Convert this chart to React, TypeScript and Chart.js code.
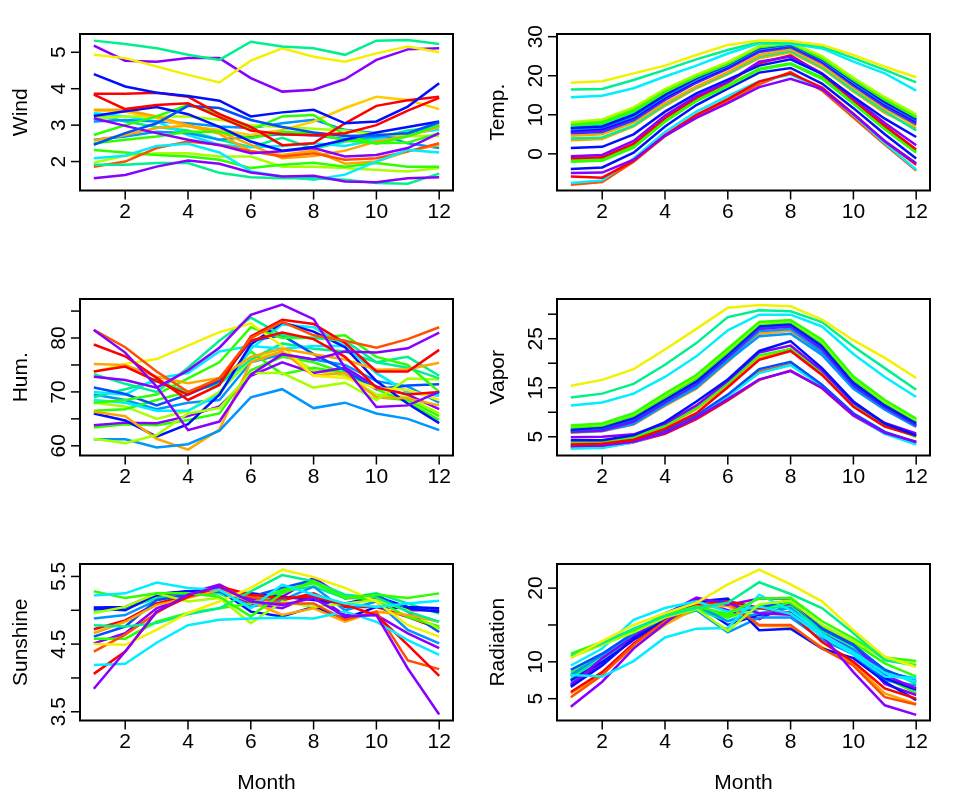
import React, { useEffect, useRef } from "react";
import { Chart, registerables } from "chart.js";

Chart.register(...registerables);

// ---------------- data ----------------
const MONTHS = [1, 2, 3, 4, 5, 6, 7, 8, 9, 10, 11, 12];
const X_TICKS = [2, 4, 6, 8, 10, 12];

const PALETTE: Record<string, string> = {
  red: "#FF0000",
  orangered: "#FF5000",
  orange: "#FFA500",
  gold: "#FFCC00",
  yellow: "#F2F200",
  yellowgreen: "#A8FF00",
  green: "#2EFF00",
  springgreen: "#00F090",
  cyan: "#00EEFF",
  azure: "#0095FF",
  blue: "#0010FF",
  blue2: "#0050FF",
  purple: "#8A00FF",
};

// Wind
const windColors = [
  "springgreen", "yellow", "purple", "blue", "red", "red", "blue2", "blue", "purple", "purple",
  "springgreen", "cyan", "orangered", "green", "yellowgreen", "green", "green", "orange", "orange", "gold",
  "yellowgreen", "azure", "azure", "cyan", "springgreen",
];
const windValues = [
  [5.32, 5.23, 5.11, 4.93, 4.79, 5.29, 5.16, 5.11, 4.93, 5.32, 5.34, 5.23],
  [4.93, 4.84, 4.61, 4.38, 4.17, 4.77, 5.11, 4.88, 4.74, 4.97, 5.16, 5.0],
  [5.18, 4.77, 4.74, 4.84, 4.84, 4.29, 3.92, 3.97, 4.26, 4.79, 5.08, 5.11],
  [4.4, 4.06, 3.89, 3.8, 3.67, 3.24, 3.35, 3.42, 3.05, 3.1, 3.51, 4.15],
  [3.86, 3.86, 3.89, 3.78, 3.3, 2.95, 2.45, 2.5, 3.05, 3.53, 3.68, 3.78],
  [3.84, 3.44, 3.55, 3.6, 3.22, 2.85, 2.75, 2.72, 2.78, 3.0, 3.4, 3.75],
  [2.46, 2.78, 3.05, 3.53, 3.47, 3.14, 2.95, 2.8, 2.7, 2.72, 2.78, 3.08],
  [3.25, 3.38, 3.5, 3.3, 2.95, 2.55, 2.3, 2.4, 2.6, 2.8, 2.95, 3.1],
  [3.19, 2.98, 2.78, 2.6, 2.45, 2.23, 2.28, 2.37, 2.14, 2.18, 2.37, 2.78],
  [1.54, 1.63, 1.86, 2.03, 1.94, 1.7, 1.59, 1.61, 1.45, 1.43, 1.54, 1.57],
  [1.91, 1.91, 1.96, 1.96, 1.69, 1.57, 1.54, 1.54, 1.5, 1.41, 1.39, 1.67],
  [2.09, 2.16, 2.43, 2.49, 2.25, 1.73, 1.59, 1.5, 1.64, 2.0, 2.32, 2.25],
  [1.86, 2.0, 2.37, 2.55, 2.46, 2.28, 2.14, 2.23, 2.05, 2.09, 2.28, 2.5],
  [2.32, 2.25, 2.18, 2.14, 2.05, 1.82, 1.91, 1.97, 1.86, 1.96, 1.86, 1.86],
  [1.97, 2.16, 2.23, 2.23, 2.14, 2.14, 1.86, 1.86, 1.82, 1.77, 1.73, 1.82],
  [2.73, 3.0, 3.24, 3.56, 3.31, 2.87, 3.24, 3.28, 2.73, 2.49, 2.69, 3.0],
  [2.5, 2.6, 2.69, 2.82, 2.82, 2.64, 2.82, 2.78, 2.58, 2.5, 2.52, 2.78],
  [2.58, 2.73, 2.92, 2.98, 2.76, 2.28, 2.18, 2.3, 1.94, 2.0, 2.28, 2.46],
  [3.42, 3.42, 3.24, 3.0, 2.82, 2.46, 2.09, 2.15, 2.3, 2.55, 2.7, 2.95],
  [3.4, 3.37, 3.19, 2.96, 2.87, 2.73, 2.87, 3.1, 3.47, 3.78, 3.69, 3.44],
  [3.19, 3.24, 3.24, 3.24, 3.15, 3.0, 2.95, 2.9, 2.85, 2.75, 2.7, 2.7],
  [3.1, 3.14, 3.1, 3.05, 2.96, 2.92, 3.05, 3.15, 2.87, 2.78, 2.5, 2.37],
  [2.6, 2.69, 2.82, 2.78, 2.6, 2.69, 2.75, 2.72, 2.62, 2.68, 2.75, 3.0],
  [3.33, 3.24, 3.1, 2.73, 2.46, 2.39, 2.43, 2.5, 2.43, 2.6, 2.78, 2.87],
  [3.3, 3.1, 2.95, 2.85, 2.6, 2.4, 2.65, 2.35, 2.55, 2.65, 2.85, 2.95],
];
const windTicks = [2, 3, 4, 5];
const windTickLabels = ["2", "3", "4", "5"];

// Temperature
const tempColors = [
  "yellow", "springgreen", "cyan", "yellowgreen", "green", "green", "blue", "azure", "blue", "purple",
  "blue2", "cyan", "springgreen", "orange", "springgreen", "orange", "blue", "purple", "red", "green",
  "green", "blue", "purple", "red", "cyan", "orangered",
];
const tempValues = [
  [18.2, 18.6, 20.6, 22.6, 25.3, 27.9, 29.0, 28.9, 27.9, 25.3, 22.3, 19.6],
  [16.5, 16.6, 18.9, 21.5, 24.2, 26.6, 28.6, 28.4, 27.5, 24.5, 21.5, 18.3],
  [14.5, 14.9, 16.8, 19.8, 22.6, 25.7, 28.3, 28.2, 27.0, 23.6, 20.6, 16.2],
  [8.1, 8.8, 11.9, 16.6, 20.3, 23.5, 27.6, 28.5, 25.0, 19.5, 14.5, 10.1],
  [7.7, 8.3, 11.3, 16.2, 20.0, 23.3, 27.4, 28.4, 24.7, 19.2, 14.1, 9.6],
  [7.3, 7.8, 10.9, 15.8, 19.7, 23.0, 27.3, 28.2, 24.4, 18.9, 13.8, 9.3],
  [6.6, 7.0, 10.0, 15.1, 19.4, 22.8, 27.1, 28.1, 24.2, 18.6, 13.3, 8.9],
  [6.3, 6.8, 9.6, 14.8, 19.0, 22.5, 26.8, 27.9, 24.0, 18.3, 13.0, 8.6],
  [6.0, 6.4, 9.3, 14.4, 18.7, 22.2, 26.6, 27.8, 23.8, 18.0, 12.7, 8.3],
  [5.5, 6.0, 9.0, 14.0, 18.4, 21.9, 26.3, 27.6, 23.5, 17.8, 12.4, 8.0],
  [5.3, 5.6, 8.6, 13.8, 18.2, 21.8, 26.1, 27.3, 23.3, 17.5, 12.1, 7.6],
  [6.8, 7.2, 10.2, 15.0, 19.2, 22.6, 26.9, 27.7, 24.0, 18.5, 13.2, 8.8],
  [7.0, 7.5, 10.5, 15.5, 19.5, 22.9, 27.2, 28.0, 24.3, 18.8, 13.6, 9.2],
  [4.6, 5.0, 8.0, 13.0, 17.3, 21.0, 25.3, 26.8, 22.6, 17.0, 11.5, 7.2],
  [3.9, 4.2, 7.2, 12.6, 17.0, 20.6, 24.9, 26.3, 22.2, 16.3, 10.9, 6.0],
  [3.5, 3.8, 7.0, 12.3, 16.8, 20.4, 24.5, 26.0, 21.9, 16.0, 10.5, 6.5],
  [1.5, 1.8, 5.0, 10.8, 15.5, 19.0, 22.6, 24.2, 20.5, 14.6, 9.0, 4.3],
  [-0.6, -0.3, 3.3, 9.8, 14.8, 18.4, 23.6, 24.9, 20.6, 14.2, 7.9, 2.2],
  [-1.1, -0.9, 2.6, 9.2, 14.4, 18.3, 23.2, 25.2, 20.4, 13.8, 7.2, 1.1],
  [-1.6, -1.4, 2.0, 8.5, 13.8, 17.6, 21.8, 23.2, 19.6, 13.2, 6.6, 0.6],
  [-2.0, -1.8, 1.6, 8.2, 13.5, 17.3, 21.5, 23.0, 19.2, 12.8, 6.3, 0.3],
  [-3.9, -3.5, 0.3, 7.0, 12.5, 16.7, 20.8, 22.0, 18.0, 11.7, 5.0, -1.2],
  [-4.9, -4.8, -1.5, 4.6, 9.2, 13.0, 17.1, 19.2, 16.6, 10.2, 3.3, -2.4],
  [-5.8, -6.1, -1.8, 4.8, 10.0, 14.0, 18.5, 20.6, 17.0, 10.3, 3.2, -2.8],
  [-7.5, -6.8, -1.2, 5.6, 10.8, 14.8, 18.6, 20.3, 16.8, 10.0, 2.7, -4.0],
  [-7.9, -7.2, -2.0, 4.5, 9.5, 13.5, 17.8, 21.0, 16.2, 9.3, 2.4, -4.3],
];
const tempTicks = [0, 10, 20, 30];
const tempTickLabels = ["0", "10", "20", "30"];

// Humidity
const humColors = [
  "purple", "purple", "orangered", "red", "red", "orange", "yellow", "springgreen", "green", "yellowgreen",
  "azure", "orange", "blue", "blue2", "purple", "cyan", "cyan", "springgreen", "green", "yellowgreen",
  "azure", "green",
];
const humValues = [
  [81.5, 77.3, 71.0, 62.9, 64.5, 73.2, 77.0, 76.0, 77.5, 77.3, 78.1, 81.0],
  [72.8, 72.2, 70.8, 74.0, 78.2, 84.3, 86.2, 83.5, 74.5, 67.2, 67.5, 70.0],
  [81.5, 78.3, 73.8, 70.0, 72.5, 80.0, 83.0, 80.5, 79.5, 78.2, 79.8, 82.0],
  [78.8, 76.6, 72.6, 68.5, 71.3, 80.3, 83.4, 82.6, 79.1, 73.8, 73.8, 77.8],
  [73.8, 74.7, 72.0, 69.5, 72.5, 79.5, 81.0, 79.8, 76.5, 70.8, 69.5, 70.0],
  [75.2, 75.0, 72.8, 71.6, 72.6, 76.5, 78.0, 77.0, 76.0, 74.1, 74.2, 75.4],
  [73.7, 75.2, 76.1, 78.6, 81.1, 82.7, 78.5, 73.0, 72.6, 70.7, 70.4, 68.5],
  [73.3, 71.5, 70.0, 74.5, 79.5, 83.8, 80.5, 80.0, 79.5, 75.5, 74.5, 72.5],
  [68.0, 68.5, 69.5, 72.5, 75.5, 82.0, 80.0, 80.0, 80.5, 76.5, 75.0, 70.0],
  [61.3, 60.5, 62.0, 66.0, 67.0, 73.5, 73.5, 70.8, 71.7, 68.5, 72.5, 72.3],
  [61.2, 61.2, 59.7, 60.3, 62.8, 69.0, 70.5, 67.0, 68.0, 66.0, 65.0, 62.9],
  [66.3, 65.5, 61.3, 59.3, 63.0, 75.5, 77.5, 73.0, 73.5, 69.0, 68.8, 67.5],
  [66.0, 64.7, 61.7, 64.0, 69.5, 78.8, 82.9, 81.2, 78.3, 72.0, 67.8, 64.2],
  [70.8, 69.6, 67.5, 69.5, 72.0, 79.5, 80.5, 77.0, 74.0, 70.5, 71.2, 71.4],
  [63.8, 64.3, 64.2, 65.5, 67.3, 73.0, 75.5, 73.5, 74.5, 71.0, 69.5, 66.8],
  [68.5, 68.0, 66.5, 66.5, 69.5, 78.0, 82.5, 82.0, 78.5, 73.5, 70.0, 69.5],
  [70.0, 69.5, 72.5, 73.5, 77.5, 78.5, 78.0, 78.5, 78.5, 73.5, 69.8, 69.3],
  [69.0, 70.5, 72.0, 70.0, 71.5, 76.0, 79.0, 78.0, 77.5, 75.5, 76.5, 73.0],
  [66.5, 66.8, 68.5, 70.0, 71.5, 77.5, 73.3, 74.5, 73.5, 70.5, 68.0, 64.8],
  [68.0, 67.3, 65.0, 66.5, 70.0, 76.0, 77.5, 74.0, 73.0, 69.5, 69.0, 66.0],
  [69.5, 68.5, 66.8, 68.0, 68.5, 75.5, 77.0, 76.0, 75.0, 72.0, 71.0, 68.0],
  [63.4, 64.0, 63.8, 64.8, 66.0, 74.0, 76.5, 75.5, 73.5, 69.0, 68.5, 65.5],
];
const humTicks = [60, 65, 70, 75, 80, 85];
const humTickLabels = ["60", "", "70", "", "80", ""];

// Vapor pressure
const vaporColors = [
  "yellow", "springgreen", "cyan", "green", "yellowgreen", "green", "blue", "blue2", "purple", "azure",
  "azure", "orange", "springgreen", "blue", "purple", "red", "green", "purple", "blue2", "cyan",
  "red", "orangered", "orange",
];
const vaporValues = [
  [15.4, 16.6, 18.8, 22.8, 27.0, 31.3, 31.9, 31.6, 28.9, 24.7, 21.1, 17.0],
  [13.0, 13.8, 15.8, 19.7, 24.1, 29.4, 30.8, 30.6, 28.4, 23.4, 19.0, 14.6],
  [11.4, 12.0, 13.8, 17.2, 21.4, 26.7, 29.9, 29.9, 27.5, 21.9, 17.2, 13.1],
  [7.3, 7.7, 9.8, 13.8, 17.6, 23.0, 28.4, 28.8, 24.8, 17.3, 12.5, 8.7],
  [7.2, 7.6, 9.6, 13.5, 17.3, 22.7, 28.2, 28.6, 24.5, 17.0, 12.2, 8.5],
  [6.9, 7.3, 9.3, 13.1, 16.9, 22.3, 28.0, 28.4, 24.2, 16.7, 12.0, 8.3],
  [6.5, 7.0, 8.8, 12.6, 16.3, 21.8, 27.6, 28.0, 23.5, 16.0, 11.4, 7.8],
  [6.3, 6.7, 8.5, 12.3, 16.0, 21.5, 27.3, 27.8, 23.2, 15.7, 11.2, 7.5],
  [6.0, 6.3, 8.1, 12.0, 15.7, 21.2, 27.0, 27.5, 22.8, 15.4, 11.0, 7.3],
  [6.2, 6.5, 7.9, 11.8, 15.4, 20.8, 26.5, 27.0, 22.2, 15.2, 10.8, 7.2],
  [5.9, 6.2, 7.6, 11.5, 15.0, 20.5, 25.5, 26.0, 21.7, 14.8, 10.5, 7.0],
  [5.8, 6.1, 7.5, 11.3, 14.8, 20.3, 26.0, 26.6, 22.0, 15.0, 10.7, 7.1],
  [6.7, 7.0, 8.9, 12.9, 16.6, 22.0, 27.8, 28.2, 23.8, 16.4, 11.7, 8.0],
  [4.3, 4.3, 5.3, 8.0, 12.2, 16.7, 22.5, 24.5, 19.0, 12.2, 7.7, 5.3],
  [4.9, 5.0, 5.5, 7.7, 11.4, 16.4, 22.2, 23.6, 18.5, 11.9, 7.8, 5.7],
  [3.4, 3.6, 4.4, 6.6, 9.8, 15.1, 20.7, 22.5, 17.6, 11.1, 7.1, 5.2],
  [4.0, 4.1, 4.9, 7.2, 10.9, 15.9, 21.6, 22.9, 17.9, 11.5, 7.3, 5.0],
  [3.1, 3.2, 4.0, 5.8, 8.9, 12.7, 16.7, 18.4, 15.0, 9.4, 5.8, 4.0],
  [3.3, 3.3, 4.2, 6.2, 9.4, 13.6, 18.8, 20.3, 15.6, 9.8, 6.0, 3.9],
  [2.6, 2.7, 3.9, 5.9, 9.0, 13.2, 18.0, 19.6, 15.3, 9.4, 5.6, 3.4],
  [2.7, 2.8, 3.9, 5.6, 8.6, 12.4, 16.6, 18.5, 14.9, 9.3, 5.7, 3.7],
  [2.9, 3.0, 4.1, 6.0, 9.2, 13.4, 18.3, 19.8, 15.4, 9.6, 5.9, 3.8],
  [3.7, 3.8, 4.6, 7.0, 10.6, 15.5, 21.0, 23.0, 18.0, 11.3, 7.2, 5.4],
];
const vaporTicks = [5, 10, 15, 20, 25, 30];
const vaporTickLabels = ["5", "", "15", "", "25", ""];

// Sunshine
const sunColors = [
  "purple", "cyan", "cyan", "green", "yellow", "springgreen", "red", "orangered", "orange", "yellowgreen",
  "green", "blue", "blue2", "blue", "azure", "purple", "springgreen", "purple", "red",
];
const sunValues = [
  [3.84, 4.39, 4.98, 5.23, 5.35, 5.13, 5.08, 5.18, 4.91, 4.93, 4.14, 3.46],
  [4.19, 4.21, 4.52, 4.78, 4.86, 4.88, 4.89, 4.88, 4.98, 4.83, 4.56, 4.34],
  [5.22, 5.25, 5.41, 5.33, 5.3, 5.03, 5.38, 5.23, 5.1, 5.05, 5.1, 5.14],
  [5.28, 5.18, 5.25, 5.25, 5.2, 4.91, 5.25, 5.43, 5.18, 5.23, 5.18, 5.25],
  [4.5, 4.49, 4.71, 4.96, 5.13, 5.33, 5.6, 5.49, 5.33, 5.13, 4.78, 4.61],
  [4.78, 4.76, 4.81, 4.94, 5.03, 5.28, 5.52, 5.43, 5.23, 5.19, 4.98, 4.83],
  [4.06, 4.39, 4.98, 5.2, 5.35, 5.23, 5.18, 5.2, 5.08, 4.93, 4.49, 4.03],
  [4.39, 4.64, 4.96, 5.23, 5.33, 5.2, 5.1, 5.1, 4.86, 4.98, 4.26, 4.13],
  [4.66, 4.83, 5.08, 5.18, 5.3, 5.13, 4.93, 5.03, 4.83, 4.98, 4.93, 4.83],
  [4.96, 5.05, 5.25, 5.13, 5.18, 4.81, 5.13, 5.05, 5.1, 5.15, 5.0, 4.72],
  [4.58, 4.58, 4.83, 4.96, 5.03, 5.1, 5.3, 5.4, 5.2, 5.15, 4.9, 4.76],
  [5.04, 5.05, 5.24, 5.28, 5.3, 4.98, 4.91, 5.05, 4.88, 5.05, 5.03, 4.98],
  [4.61, 4.76, 5.15, 5.23, 5.33, 5.2, 5.33, 5.45, 5.18, 5.23, 4.98, 4.68],
  [5.03, 5.0, 5.23, 5.28, 5.28, 5.25, 5.2, 5.15, 5.1, 5.2, 5.05, 5.03],
  [4.88, 4.93, 5.15, 5.24, 5.28, 5.05, 5.15, 5.35, 5.0, 5.13, 4.71, 4.51],
  [4.51, 4.66, 5.03, 5.2, 5.3, 5.1, 5.03, 5.23, 4.93, 4.93, 4.66, 4.44],
  [4.98, 5.03, 5.18, 5.22, 5.25, 5.05, 5.28, 5.35, 5.18, 5.25, 5.1, 4.95],
  [5.0, 5.03, 5.2, 5.25, 5.38, 5.15, 5.2, 5.48, 5.18, 5.18, 5.0, 5.0],
  [4.72, 4.85, 5.1, 5.22, 5.3, 5.18, 5.15, 5.25, 5.05, 5.05, 4.9, 4.73],
];
const sunTicks = [3.5, 4, 4.5, 5, 5.5];
const sunTickLabels = ["3.5", "", "4.5", "", "5.5"];

// Radiation
const radColors = [
  "yellow", "springgreen", "green", "yellowgreen", "cyan", "cyan", "purple", "orangered", "red", "blue",
  "blue2", "purple", "azure", "orange", "green", "springgreen", "blue", "azure", "purple", "green",
];
const radValues = [
  [10.5, 12.8, 15.0, 16.6, 18.0, 20.5, 22.5, 20.5, 18.2, 14.3, 10.7, 9.3],
  [10.8, 12.5, 14.5, 16.2, 17.3, 18.0, 20.8, 19.2, 17.3, 13.9, 10.2, 9.5],
  [11.1, 12.7, 14.3, 16.4, 17.5, 16.5, 18.6, 18.7, 15.5, 13.2, 10.6, 10.1],
  [10.6, 12.3, 14.0, 16.0, 17.2, 14.2, 17.8, 18.3, 15.0, 12.8, 10.4, 9.7],
  [8.2, 8.0, 10.1, 13.3, 14.5, 14.6, 19.1, 17.0, 13.8, 11.3, 8.5, 7.3],
  [9.5, 11.8, 15.7, 17.3, 18.2, 16.8, 17.5, 16.5, 13.5, 11.0, 8.0, 7.8],
  [3.9, 7.3, 11.8, 15.2, 18.6, 18.0, 16.6, 16.4, 13.6, 8.6, 4.1, 2.8],
  [5.2, 8.2, 12.3, 15.5, 17.5, 18.0, 15.0, 15.0, 11.8, 9.5, 5.2, 4.2],
  [5.9, 8.6, 12.5, 15.5, 17.7, 18.2, 17.3, 16.6, 12.7, 10.0, 6.4, 5.0],
  [6.6, 9.5, 13.2, 15.7, 18.2, 18.6, 14.3, 14.5, 11.8, 10.5, 7.3, 4.8],
  [8.9, 11.1, 13.9, 16.6, 18.2, 18.2, 17.3, 18.4, 14.5, 12.3, 8.9, 7.3],
  [6.8, 10.5, 13.4, 16.4, 18.7, 17.7, 18.6, 18.6, 14.5, 12.3, 8.2, 6.4],
  [8.2, 10.9, 13.6, 16.1, 17.7, 15.5, 16.6, 17.3, 13.4, 11.6, 8.6, 7.7],
  [5.7, 8.4, 12.0, 15.0, 17.3, 17.6, 14.9, 14.8, 12.0, 9.8, 5.7, 4.3],
  [8.5, 10.8, 13.6, 16.0, 17.4, 16.0, 17.6, 18.0, 14.8, 12.6, 9.8, 8.0],
  [8.0, 10.4, 13.3, 15.8, 17.1, 15.5, 17.2, 17.5, 14.2, 12.0, 9.0, 7.0],
  [7.5, 10.0, 13.0, 15.5, 17.8, 15.0, 16.4, 16.7, 13.6, 11.4, 7.8, 6.2],
  [7.3, 10.2, 13.5, 16.3, 17.0, 14.0, 16.0, 16.0, 13.0, 11.0, 7.5, 6.8],
  [7.0, 9.8, 13.0, 15.9, 18.3, 17.0, 15.8, 17.9, 14.0, 11.8, 7.0, 5.5],
  [7.6, 10.3, 13.2, 15.5, 17.0, 16.3, 17.5, 17.8, 14.6, 12.2, 7.8, 5.8],
];
const radTicks = [5, 10, 15, 20];
const radTickLabels = ["5", "10", "", "20"];

// ---------------- layout ----------------
const FONT = "Liberation Sans, Arial, Helvetica, sans-serif";
const CANVAS_W = 477;
const CANVAS_H = 264;
const ROW_H = 265;

type PanelDef = {
  title: string;
  colors: string[];
  values: number[][];
  ticks: number[];
  tickLabels: string[];
  yMin: number;
  yMax: number;
  col: number;
  row: number;
  xTitle: boolean;
};

const PANELS: PanelDef[] = [
  { title: "Wind", colors: windColors, values: windValues, ticks: windTicks, tickLabels: windTickLabels, yMin: 1.205, yMax: 5.502, col: 0, row: 0, xTitle: false },
  { title: "Temp.", colors: tempColors, values: tempValues, ticks: tempTicks, tickLabels: tempTickLabels, yMin: -9.39, yMax: 30.69, col: 1, row: 0, xTitle: false },
  { title: "Hum.", colors: humColors, values: humValues, ticks: humTicks, tickLabels: humTickLabels, yMin: 58.2, yMax: 87.24, col: 0, row: 1, xTitle: false },
  { title: "Vapor", colors: vaporColors, values: vaporValues, ticks: vaporTicks, tickLabels: vaporTickLabels, yMin: 1.18, yMax: 33.1, col: 1, row: 1, xTitle: false },
  { title: "Sunshine", colors: sunColors, values: sunValues, ticks: sunTicks, tickLabels: sunTickLabels, yMin: 3.371, yMax: 5.684, col: 0, row: 2, xTitle: true },
  { title: "Radiation", colors: radColors, values: radValues, ticks: radTicks, tickLabels: radTickLabels, yMin: 2.04, yMax: 23.27, col: 1, row: 2, xTitle: true },
];

function framePlugin(p: PanelDef) {
  return {
    id: "rframe",
    afterDraw(chart: any) {
      const ctx: CanvasRenderingContext2D = chart.ctx;
      const { left, right, top, bottom } = chart.chartArea;
      const xs = chart.scales.x;
      const ys = chart.scales.y;
      ctx.save();
      ctx.strokeStyle = "#000";
      ctx.fillStyle = "#000";
      ctx.lineWidth = 2;
      ctx.strokeRect(left, top, right - left, bottom - top);
      ctx.lineWidth = 1.5;
      ctx.font = `21px ${FONT}`;
      // x axis
      ctx.textAlign = "center";
      ctx.textBaseline = "alphabetic";
      for (const v of X_TICKS) {
        const x = xs.getPixelForValue(v);
        ctx.beginPath();
        ctx.moveTo(x, bottom);
        ctx.lineTo(x, bottom + 9);
        ctx.stroke();
        ctx.fillText(String(v), x, bottom + 27.5);
      }
      // y axis
      p.ticks.forEach((v, i) => {
        const y = ys.getPixelForValue(v);
        ctx.beginPath();
        ctx.moveTo(left - 9, y);
        ctx.lineTo(left, y);
        ctx.stroke();
        const lab = p.tickLabels[i];
        if (lab) {
          ctx.save();
          ctx.translate(left - 15, y);
          ctx.rotate(-Math.PI / 2);
          ctx.fillText(lab, 0, 0);
          ctx.restore();
        }
      });
      // y title
      ctx.save();
      ctx.translate(left - 52.7, (top + bottom) / 2);
      ctx.rotate(-Math.PI / 2);
      ctx.fillText(p.title, 0, 0);
      ctx.restore();
      if (p.xTitle) {
        ctx.fillText("Month", (left + right) / 2, bottom + 68);
      }
      ctx.restore();
    },
  };
}

function Panel({ p }: { p: PanelDef }) {
  const ref = useRef<HTMLCanvasElement>(null);
  useEffect(() => {
    const canvas = ref.current;
    if (!canvas) return;
    const chart = new Chart(canvas, {
      type: "line",
      data: {
        datasets: p.values.map((row, i) => ({
          data: row.map((v, j) => ({ x: MONTHS[j], y: v })),
          borderColor: PALETTE[p.colors[i]],
          backgroundColor: PALETTE[p.colors[i]],
          borderWidth: 2.5,
          pointRadius: 0,
          fill: false,
          tension: 0,
        })),
      },
      options: {
        responsive: false,
        maintainAspectRatio: false,
        animation: false,
        events: [],
        layout: { padding: { left: 80, top: 34, right: 24, bottom: 73.5 } },
        plugins: { legend: { display: false }, tooltip: { enabled: false }, title: { display: false } },
        scales: {
          x: { type: "linear", min: 0.56, max: 12.44, display: false },
          y: { type: "linear", min: p.yMin, max: p.yMax, display: false },
        },
      },
      plugins: [framePlugin(p)],
    } as any);
    return () => chart.destroy();
  }, [p]);
  return (
    <canvas
      ref={ref}
      width={CANVAS_W}
      height={CANVAS_H}
      style={{ position: "absolute", left: p.col * CANVAS_W, top: p.row * ROW_H, width: CANVAS_W, height: CANVAS_H }}
    />
  );
}

export default function App() {
  return (
    <div style={{ position: "absolute", left: 0, top: 0, width: 954, height: 794, background: "#fff", overflow: "hidden" }}>
      {PANELS.map((p) => (
        <Panel key={p.title} p={p} />
      ))}
    </div>
  );
}
